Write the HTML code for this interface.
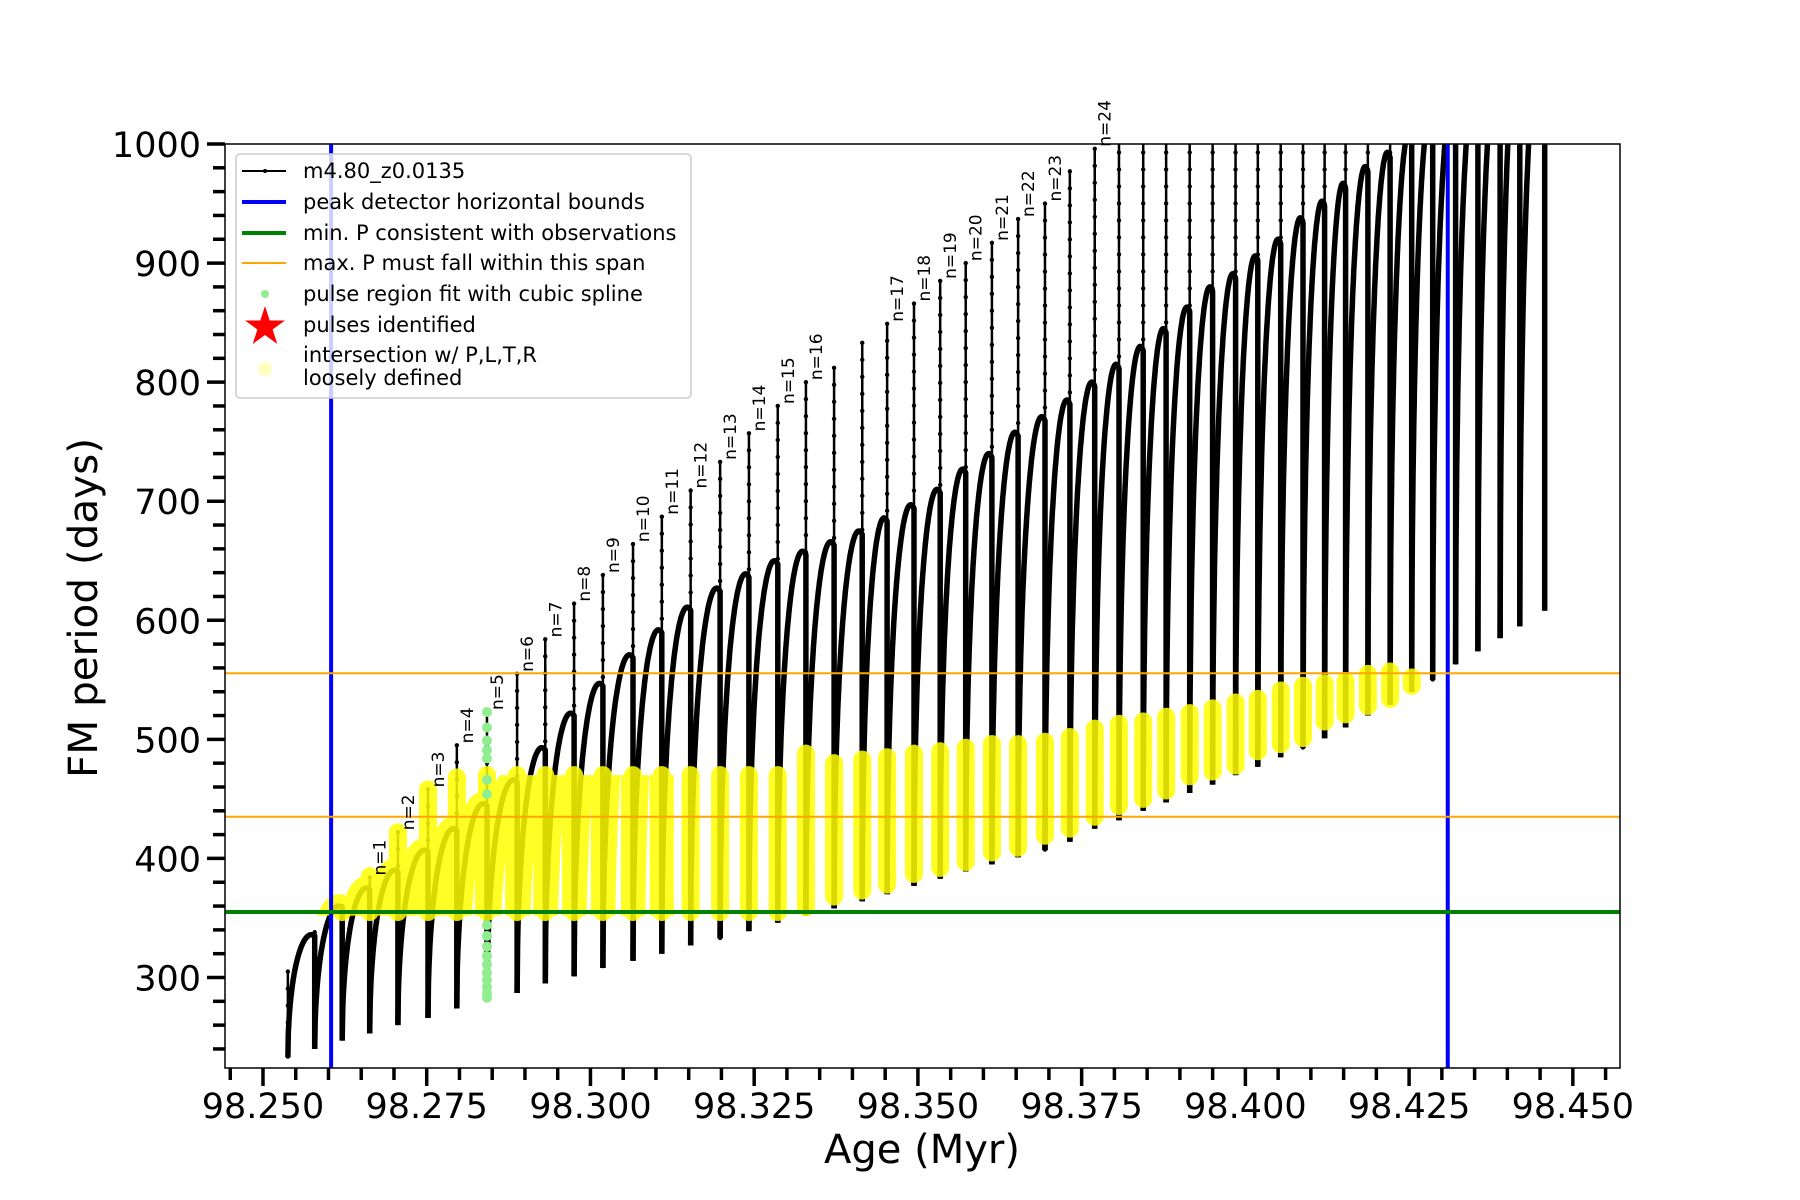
<!DOCTYPE html>
<html><head><meta charset="utf-8"><style>
html,body{margin:0;padding:0;background:#fff;}
svg{display:block;font-family:"DejaVu Sans","Liberation Sans",sans-serif;}
</style></head><body>
<svg id="chart" width="1800" height="1200" viewBox="0 0 1800 1200" xmlns="http://www.w3.org/2000/svg">
<defs><clipPath id="plotClip"><rect x="225" y="144" width="1395" height="924"/></clipPath></defs>
<rect x="0" y="0" width="1800" height="1200" fill="#fff"/>
<g id="plot" clip-path="url(#plotClip)"></g>
<rect x="225" y="144" width="1395" height="924" fill="none" stroke="#000" stroke-width="1.5"/>
<g id="axes"></g>
<text x="922" y="1163" font-size="40" text-anchor="middle">Age (Myr)</text>
<text transform="translate(97,608) rotate(-90)" font-size="40" text-anchor="middle" textLength="340" lengthAdjust="spacingAndGlyphs">FM period (days)</text>
<g id="legend"></g>
</svg>
<script>
const ages = [98.2538,98.2579,98.2621,98.2663,98.2706,98.2752,98.2796,98.2842,98.2888,98.2931,98.2975,98.3019,98.3065,98.3109,98.3153,98.3198,98.3242,98.3286,98.3329,98.3372,98.3415,98.3453,98.3494,98.3534,98.3573,98.3613,98.3653,98.3694,98.3732,98.3770,98.3807,98.3844,98.3879,98.3915,98.3950,98.3985,98.4019,98.4054,98.4088,98.4121,98.4153,98.4187,98.4221,98.4254,98.4286,98.4321,98.4355,98.4389,98.4419,98.4457];
const spikeTops = [305,338,355,384,422,458,495,523,555,584,614,638,664,687,709,733,757,780,800,812,833,849,866,885,900,917,937,950,977,996,1050,1050,1050,1050,1050,1050,1050,1050,1050,1050,1050,1050,1050,1050,1050,1050,1050,1050,1050,1050];
const spikeBottoms = [233,240,247,253,260,266,274,281,287,295,301,308,314,320,327,333,339,346,352,358,364,370,377,383,389,395,401,407,414,425,432,440,447,455,462,470,477,485,493,501,510,520,529,540,550,563,574,585,595,608];
const arcPeaks = [336,360,375,390,407,425,446,466,493,522,547,571,592,611,627,639,650,658,666,675,686,697,710,727,740,758,771,785,800,815,830,845,863,880,891,906,920,938,952,967,981,993,1010,1025,1040,1055,1070,1085,1100];
const bandLo = [0,0,355,355,355,355,355,355,355,355,355,355,355,355,355,355,355,355,359,368,373,378,387,392,397,405,409,419,425,435,444,450,457,469,473,478,490,496,501,515,521,528,534,545,0,0,0,0,0,0];
const bandHi = [0,0,360,385,422,458,468,470,470,470,470,470,470,470,470,470,470,470,488,480,483,485,488,490,493,496,496,498,502,509,513,515,519,522,526,531,534,541,545,547,549,555,557,552,0,0,0,0,0,0];
const labelIdx = [3,4,5,6,7,8,9,10,11,12,13,14,15,16,17,18,21,22,23,24,25,26,27,29];
const labelN = [1,2,3,4,5,6,7,8,9,10,11,12,13,14,15,16,17,18,19,20,21,22,23,24];
const greenVals = [523,510,499,491,484,466,454,344,335,326,318,311,304,298,292,287,283];
const greenIdx = 7;
const blueBounds = [98.2604,98.4309];
const minP = 355;
const maxSpan = [435,555.5];
const xTickLabels = ["98.250","98.275","98.300","98.325","98.350","98.375","98.400","98.425","98.450"];
const yTickLabels = ["300","400","500","600","700","800","900","1000"];

const X0=225,X1=1620,Y0=144,Y1=1068, AMIN=98.2442, AMAX=98.4572, PMIN=224, PMAX=1000;
function X(a){return X0+(a-AMIN)/(AMAX-AMIN)*(X1-X0);}
function Y(p){return Y0+(PMAX-p)/(PMAX-PMIN)*(Y1-Y0);}
const NS="http://www.w3.org/2000/svg";
function mk(tag,attrs,parent){const e=document.createElementNS(NS,tag);for(const k in attrs)e.setAttribute(k,attrs[k]);parent.appendChild(e);return e;}
const plot=document.getElementById('plot');
const axes=document.getElementById('axes');
const legend=document.getElementById('legend');

function arcPts(i){
  const a0=ages[i],a1=ages[i+1],b=spikeBottoms[i],pk=arcPeaks[i];
  const pts=[];
  for(let k=0;k<=60;k++){
    const t=k/60; const u=Math.min(1,Math.abs(1-t/0.88));
    const f=Math.sqrt(Math.max(0,1-u*u));
    pts.push([X(a0+(a1-a0)*t),Y(b+(pk-b)*f)]);
  }
  pts.push([X(a1),Y(spikeBottoms[i+1])]);
  return pts;
}
function ptsStr(p){return p.map(q=>q[0].toFixed(1)+','+q[1].toFixed(1)).join(' ');}

const gBlack=mk('g',{},plot);


for(let i=0;i<ages.length;i++){
  const top=Math.max(spikeTops[i], i>0?arcPeaks[i-1]:0);
  const x=X(ages[i]);
  const sp=mk('line',{x1:x,x2:x,y1:Y(spikeBottoms[i]),y2:Y(top),stroke:'#000','stroke-width':2.5},gBlack);
  
  
  for(let y=Y(top);y<Y(spikeBottoms[i]);y+=17){mk('circle',{cx:x,cy:y,r:2.2,fill:'#000'},gBlack);}
  if(i<ages.length-1){
    const pl=mk('polyline',{points:ptsStr(arcPts(i)),fill:'none',stroke:'#000','stroke-width':5.5,'stroke-linejoin':'round'},gBlack);
    
    
  }
}
const gY=mk('g',{opacity:0.85},plot);


const cpY=mk('clipPath',{id:'yclip'},gY);
mk('rect',{x:X0,y:Y(470),width:X1-X0,height:Y(352)-Y(470)},cpY);
const gYa=mk('g',{'clip-path':'url(#yclip)'},gY);
for(let i=0;i<=12;i++){
  const pl=mk('polyline',{points:ptsStr(arcPts(i)),fill:'none',stroke:'#ffff00','stroke-width':24,'stroke-linejoin':'round'},gYa);
  
  
}
for(let i=0;i<ages.length;i++){
  if(bandHi[i]<=bandLo[i])continue;
  const x=X(ages[i]);
  const ln=mk('line',{x1:x,x2:x,y1:Y(bandLo[i]),y2:Y(bandHi[i]),stroke:'#ffff00','stroke-width':18,'stroke-linecap':'round'},gY);
  
  
}
const gG=mk('g',{},plot);


greenVals.forEach(v=>{
  const c=mk('circle',{cx:X(ages[greenIdx]),cy:Y(v),r:5,fill:'#90ee90'},gG);
  
  
});
blueBounds.forEach(a=>{
  const l=mk('line',{x1:X(a),x2:X(a),y1:Y0,y2:Y1,stroke:'#0000ff','stroke-width':4},plot);
  
  
});
{const l=mk('line',{x1:X0,x2:X1,y1:Y(minP),y2:Y(minP),stroke:'#008000','stroke-width':4},plot);
 
 }
maxSpan.forEach(p=>{
  const l=mk('line',{x1:X0,x2:X1,y1:Y(p),y2:Y(p),stroke:'#ffa500','stroke-width':2},plot);
  
  
});
labelIdx.forEach((idx,k)=>{
  const top=Math.min(spikeTops[idx],1000);
  const x=X(ages[idx])+16, y=Y(top)-2;
  const t=mk('text',{x:0,y:0,transform:`translate(${x},${y}) rotate(-90)`,'font-size':17},axes);
  t.textContent='n='+labelN[k];
  
  
});
for(let k=0;k<=42;k++){
  const a=98.245+k*0.005; if(a>AMAX)break;
  const major=(k-1)%5===0;
  mk('line',{x1:X(a),x2:X(a),y1:Y1,y2:Y1+(major?18:12),stroke:'#000','stroke-width':3.5},axes);
}
xTickLabels.forEach(s=>{
  const t=mk('text',{x:X(parseFloat(s)),y:1118,'font-size':35,'text-anchor':'middle'},axes);
  t.textContent=s;
  
  
});
for(let p=240;p<=1000;p+=20){
  const major=p%100===0;
  mk('line',{x1:X0,x2:X0-(major?18:12),y1:Y(p),y2:Y(p),stroke:'#000','stroke-width':3.5},axes);
}
yTickLabels.forEach(s=>{
  const t=mk('text',{x:201,y:Y(parseFloat(s))+13,'font-size':35,'text-anchor':'end'},axes);
  t.textContent=s;
  
  
});
mk('rect',{x:236,y:154,width:455,height:244,rx:4,fill:'#fff','fill-opacity':0.8,stroke:'#ccc','stroke-width':1.5},legend);
const entries=[
 ['m4.80_z0.0135',171,'black'],['peak detector horizontal bounds',202,'blue'],
 ['min. P consistent with observations',233,'green'],['max. P must fall within this span',263,'orange'],
 ['pulse region fit with cubic spline',294,'lg'],['pulses identified',325,'star'],
 ['intersection w/ P,L,T,R',355,'yel'],['loosely defined',378,'none']];
entries.forEach(e=>{
  const [txt,y,kind]=e;
  const g=mk('g',{},legend);
  
  
  if(kind==='black'){mk('line',{x1:242,x2:286,y1:y,y2:y,stroke:'#000','stroke-width':2},g);mk('circle',{cx:265,cy:y,r:2,fill:'#000'},g);}
  if(kind==='blue')mk('line',{x1:242,x2:286,y1:y,y2:y,stroke:'#0000ff','stroke-width':4},g);
  if(kind==='green')mk('line',{x1:242,x2:286,y1:y,y2:y,stroke:'#008000','stroke-width':4},g);
  if(kind==='orange')mk('line',{x1:242,x2:286,y1:y,y2:y,stroke:'#ffa500','stroke-width':2},g);
  if(kind==='lg')mk('circle',{cx:265,cy:y,r:4,fill:'#90ee90'},g);
  if(kind==='star'){const pts=[];for(let k=0;k<10;k++){const r=k%2?8:21,an=-Math.PI/2+k*Math.PI/5;pts.push((265+r*Math.cos(an)).toFixed(1)+','+(y+2+r*Math.sin(an)).toFixed(1));}mk('polygon',{points:pts.join(' '),fill:'#ff0000'},g);}
  if(kind==='yel')mk('circle',{cx:265,cy:369,r:7,fill:'#ffffc0'},g);
  const t=mk('text',{x:303,y:y+7,'font-size':21},g);
  t.textContent=txt;
});
</script>
</body></html>
